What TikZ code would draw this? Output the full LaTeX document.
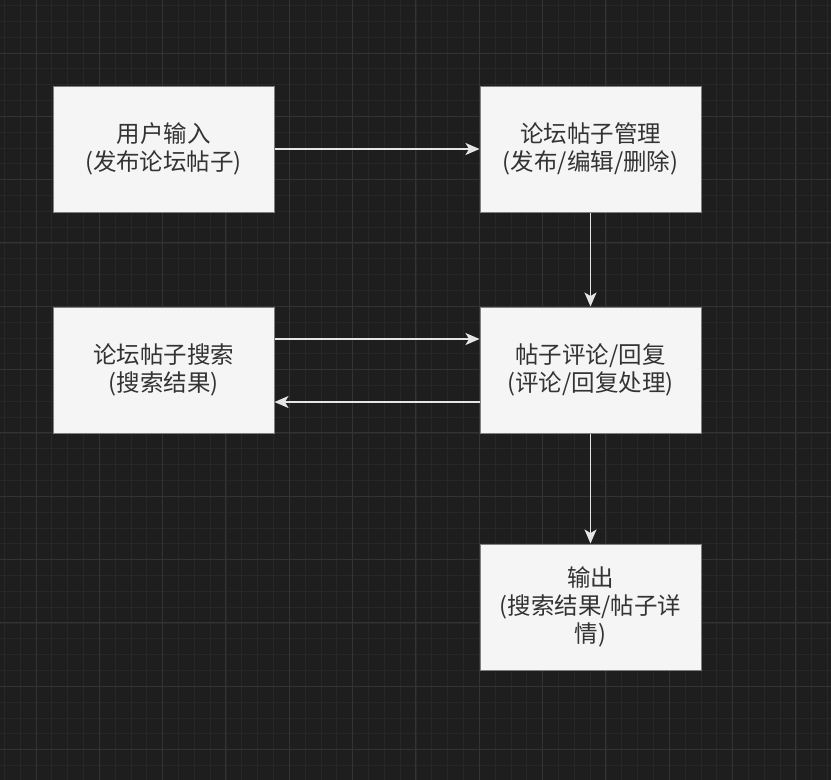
\documentclass[tikz,border=0pt]{standalone}
\usepackage{fontspec}
\newfontfamily\cjk{Noto Sans CJK SC}
\usetikzlibrary{arrows.meta}
\definecolor{bgc}{HTML}{1E1E1E}
\definecolor{gminor}{HTML}{272727}
\definecolor{gmajor}{HTML}{333333}
\definecolor{boxfill}{HTML}{F5F5F5}
\definecolor{boxline}{HTML}{808080}
\definecolor{txt}{HTML}{333333}
\definecolor{arr}{HTML}{E6E6E6}
\tikzset{
  procbox/.style={draw=boxline, line width=1pt, fill=boxfill, rectangle,
    minimum width=221pt, minimum height=126pt, inner sep=0pt, align=center,
    text=txt, font=\cjk\fontsize{23.5}{28}\selectfont},
  flow/.style={draw=arr, line width=1.4pt, -{Stealth[length=14pt,width=12pt,inset=3.5pt]}},
  gminorline/.style={draw=gminor, line width=0.8pt},
  gmajorline/.style={draw=gmajor, line width=1pt}
}
\begin{document}
\begin{tikzpicture}[x=1pt,y=-1pt]
\fill[bgc] (0,0) rectangle (831,780);
\useasboundingbox (0,0) rectangle (831,780);
\foreach \i in {0,...,53} {
  \draw[gminorline] ({4.34+\i*15.833},0) -- ++(0,780);
}
\foreach \i in {0,...,50} {
  \draw[gminorline] (0,{5.5+\i*15.833}) -- ++(831,0);
}
\foreach \i in {0,...,13} {
  \draw[gmajorline] ({36+\i*63.33},0) -- ++(0,780);
}
\foreach \i in {-1,...,12} {
  \draw[gmajorline] (0,{53+\i*63.33}) -- ++(831,0);
}
\node[procbox] (input) at (163.5,149) {用户输入\\(发布论坛帖子)};
\node[procbox] (manage) at (590.5,149) {论坛帖子管理\\(发布/编辑/删除)};
\node[procbox] (search) at (163.5,370) {论坛帖子搜索\\(搜索结果)};
\node[procbox] (comment) at (590.5,370) {帖子评论/回复\\(评论/回复处理)};
\node[procbox] (output) at (590.5,607) {输出\\(搜索结果/帖子详\\情)};
\draw[flow] (input.east) -- (manage.west);
\draw[flow] (manage.south) -- (comment.north);
\draw[flow] ([yshift=31pt]search.east) -- ([yshift=31pt]comment.west);
\draw[flow] ([yshift=-32pt]comment.west) -- ([yshift=-32pt]search.east);
\draw[flow] (comment.south) -- (output.north);
\end{tikzpicture}
\end{document}
